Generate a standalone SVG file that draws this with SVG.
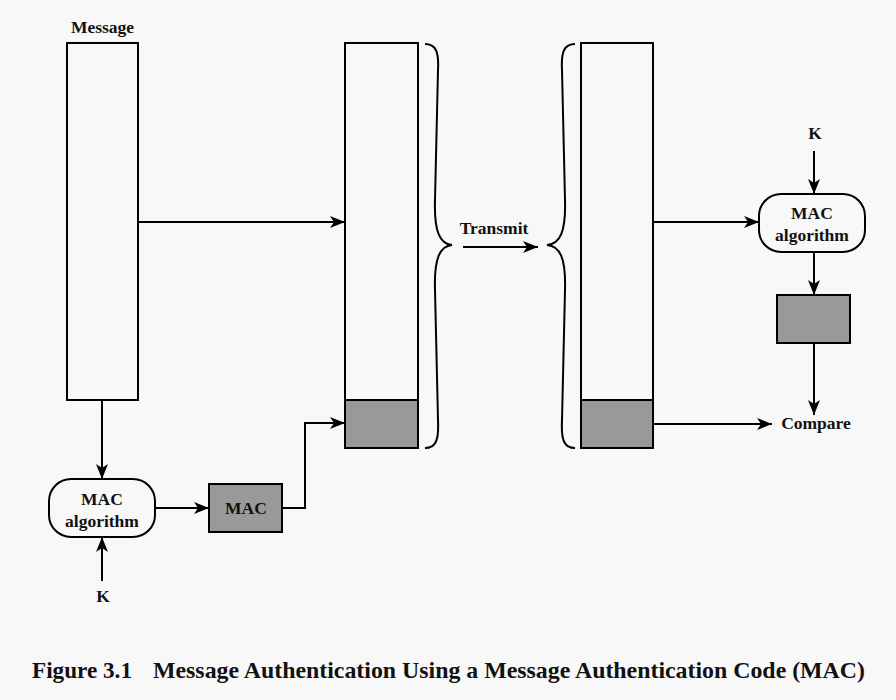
<svg xmlns="http://www.w3.org/2000/svg" width="896" height="700" viewBox="0 0 896 700">
<defs>
<marker id="arr" markerUnits="userSpaceOnUse" markerWidth="16" markerHeight="14" refX="15" refY="7" orient="auto">
<path d="M0,1 L15,7 L0,13 L4,7 z" fill="#000"/>
</marker>
<style>
.box{fill:#f8f8f8;stroke:#000;stroke-width:2}
.gray{fill:#999;stroke:#000;stroke-width:2}
.alg{fill:#f8f8f8;stroke:#000;stroke-width:2}
.ln{fill:none;stroke:#000;stroke-width:2}
.arw{fill:none;stroke:#000;stroke-width:2;marker-end:url(#arr)}
.t{font-family:"Liberation Serif","Times New Roman",serif;font-weight:bold;font-size:17.5px;fill:#111;text-anchor:middle}
.cap{font-family:"Liberation Serif","Times New Roman",serif;font-weight:bold;font-size:24px;fill:#111}
</style>
</defs>
<rect width="896" height="700" fill="#f8f8f8"/>
<g id="message">
<text class="t" x="102.5" y="33">Message</text>
<rect class="box" x="67" y="43" width="71" height="357"/>
</g>
<g id="packet1">
<rect class="box" x="345" y="43" width="73" height="405"/>
<rect class="gray" x="345" y="400" width="73" height="48"/>
</g>
<g id="brace1">
<path class="ln" d="M425,44 C436,44 439,52 438,70 L435,200 C434,232 440,244 452,245 C440,246 434,258 435,290 L438,420 C439,440 436,448 425,448"/>
</g>
<g id="transmit">
<text class="t" x="494" y="234">Transmit</text>
</g>
<g id="brace2">
<path class="ln" d="M575,44 C564,44 561,52 562,70 L565,200 C566,232 560,244 547,245 C560,246 566,258 565,290 L562,420 C561,440 564,448 575,448"/>
</g>
<g id="packet2">
<rect class="box" x="581" y="43" width="72" height="405"/>
<rect class="gray" x="581" y="400" width="72" height="48"/>
</g>
<g id="mac-alg-left">
<rect class="alg" x="49" y="479" width="106" height="58" rx="22" ry="22"/>
<text class="t" x="102" y="505">MAC</text>
<text class="t" x="102" y="527">algorithm</text>
</g>
<g id="k-left">
<text class="t" x="103" y="602">K</text>
</g>
<g id="mac-box">
<rect class="gray" x="209" y="484" width="73" height="48"/>
<text class="t" x="246" y="514">MAC</text>
</g>
<g id="k-right">
<text class="t" x="815" y="139">K</text>
</g>
<g id="mac-alg-right">
<rect class="alg" x="759" y="194" width="106" height="58" rx="22" ry="22"/>
<text class="t" x="812" y="219">MAC</text>
<text class="t" x="812" y="241">algorithm</text>
</g>
<g id="mac-out-right">
<rect class="gray" x="777" y="295" width="73" height="48"/>
</g>
<g id="compare">
<text class="t" x="816" y="429">Compare</text>
</g>
<g id="connectors">
<line class="arw" x1="138" y1="222" x2="345" y2="222"/>
<line class="arw" x1="102" y1="400" x2="102" y2="479"/>
<line class="arw" x1="102" y1="581" x2="102" y2="537"/>
<line class="arw" x1="155" y1="508" x2="209" y2="508"/>
<polyline class="arw" points="282,508 305,508 305,423 345,423"/>
<line class="arw" x1="463" y1="247" x2="538" y2="247"/>
<line class="arw" x1="653" y1="222" x2="759" y2="222"/>
<line class="arw" x1="814" y1="151" x2="814" y2="194"/>
<line class="arw" x1="814" y1="252" x2="814" y2="295"/>
<line class="arw" x1="814" y1="343" x2="814" y2="415"/>
<line class="arw" x1="653" y1="424" x2="772" y2="424"/>
</g>
<g id="caption">
<text class="cap" x="32" y="678" textLength="100" lengthAdjust="spacingAndGlyphs">Figure 3.1</text>
<text class="cap" x="153" y="678" textLength="712" lengthAdjust="spacingAndGlyphs">Message Authentication Using a Message Authentication Code (MAC)</text>
</g>
</svg>
